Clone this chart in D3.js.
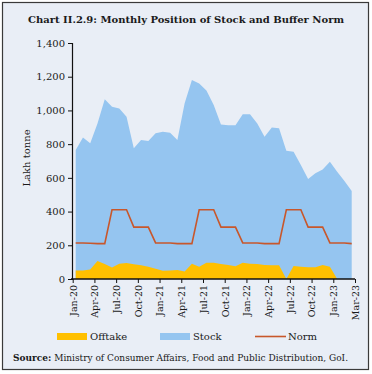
<!DOCTYPE html>
<html>
<head>
<meta charset="utf-8">
<script src="https://cdn.jsdelivr.net/npm/d3@7"></script>
<style>
  body { margin: 0; background: #fff; }
  svg text { font-family: "DejaVu Serif", "Liberation Serif", serif; fill: #1a1a1a; }
</style>
</head>
<body>
<div id="container"></div>
<script>
/* DATA */
const months = ["Jan-20","Feb-20","Mar-20","Apr-20","May-20","Jun-20","Jul-20","Aug-20","Sep-20","Oct-20","Nov-20","Dec-20",
  "Jan-21","Feb-21","Mar-21","Apr-21","May-21","Jun-21","Jul-21","Aug-21","Sep-21","Oct-21","Nov-21","Dec-21",
  "Jan-22","Feb-22","Mar-22","Apr-22","May-22","Jun-22","Jul-22","Aug-22","Sep-22","Oct-22","Nov-22","Dec-22",
  "Jan-23","Feb-23","Mar-23"];
const stock = [765, 840, 805, 923, 1066, 1022, 1012, 963, 775, 824, 818, 864,
  874, 868, 824, 1042, 1180, 1160, 1118, 1032, 917, 912, 912, 977,
  977, 923, 844, 898, 894, 761, 755, 676, 593, 627, 650, 696,
  636, 581, 522];
const offtake = [51, 51, 57, 107, 89, 68, 91, 95, 88, 81, 73, 61,
  49, 50, 53, 44, 91, 72, 97, 97, 89, 83, 75, 97,
  91, 89, 83, 81, 81, 0, 77, 73, 69, 69, 83, 73,
  0, 0, 0];
const norm = [214, 214, 212, 210, 210, 411, 411, 411, 308, 308, 308, 214,
  214, 214, 210, 210, 210, 411, 411, 411, 308, 308, 308, 214,
  214, 214, 210, 210, 210, 411, 411, 411, 308, 308, 308, 214,
  214, 214, 210];
const tickLabels = ["Jan-20","Apr-20","Jul-20","Oct-20","Jan-21","Apr-21","Jul-21","Oct-21",
  "Jan-22","Apr-22","Jul-22","Oct-22","Jan-23","Mar-23"];
const yTicks = [0, 200, 400, 600, 800, 1000, 1200, 1400];

/* CONSTANTS */
const width = 372, height = 374;
const plot = { left: 72, right: 355, top: 43, bottom: 279 };

const svg = d3.select("#container").append("svg")
  .attr("width", width)
  .attr("height", height);

// panel
svg.append("rect")
  .attr("x", 2.5).attr("y", 2.5)
  .attr("width", 366).attr("height", 367)
  .attr("fill", "#e9eef6")
  .attr("stroke", "#3a3a3a")
  .attr("stroke-width", 1.2);

// title
svg.append("text")
  .attr("x", 186).attr("y", 23)
  .attr("text-anchor", "middle")
  .style("font-size", "10px")
  .style("font-weight", "bold")
  .text("Chart II.2.9: Monthly Position of Stock and Buffer Norm");

// SCALES
const xScale = d3.scaleLinear()
  .domain([0, months.length - 1])
  .range([75.7, 351.7]);

const xTick = d3.scalePoint()
  .domain(tickLabels)
  .range([72.7, 355]);

const yScale = d3.scaleLinear()
  .domain([0, 1400])
  .range([plot.bottom, plot.top]);

// AREAS
const areaGen = vals => d3.area()
  .x((d, i) => xScale(i))
  .y0(yScale(0))
  .y1(d => yScale(d))(vals);

svg.append("path")
  .attr("d", areaGen(stock))
  .attr("fill", "#95c5f0");

svg.append("path")
  .attr("d", areaGen(offtake))
  .attr("fill", "#ffc000");

const lineGen = d3.line()
  .x((d, i) => xScale(i))
  .y(d => yScale(d));

svg.append("path")
  .attr("d", lineGen(norm))
  .attr("fill", "none")
  .attr("stroke", "#c8572b")
  .attr("stroke-width", 1.6);

// AXES
const yAxis = d3.axisLeft(yScale)
  .tickValues(yTicks)
  .tickSize(4)
  .tickPadding(3)
  .tickFormat(d3.format(","));

svg.append("g")
  .attr("transform", `translate(${plot.left},0)`)
  .call(yAxis)
  .call(g => g.select(".domain").attr("stroke", "#111").attr("stroke-width", 1.2))
  .call(g => g.selectAll(".tick line").attr("stroke", "#111"))
  .call(g => g.selectAll("text").style("font-size", "10px").style("font-family", "DejaVu Serif").attr("fill", "#1a1a1a"));

const xAxis = d3.axisBottom(xTick)
  .tickSize(4)
  .tickSizeOuter(0);

svg.append("g")
  .attr("transform", `translate(0,${plot.bottom})`)
  .call(xAxis)
  .call(g => g.select(".domain").attr("stroke", "#111").attr("stroke-width", 1.4).attr("d", `M${plot.left - 1},0H${plot.right}`))
  .call(g => g.selectAll(".tick line").attr("stroke", "#111"))
  .call(g => g.selectAll("text")
    .style("font-size", "9.5px").style("font-family", "DejaVu Serif").attr("fill", "#1a1a1a")
    .attr("transform", "rotate(-90)")
    .attr("text-anchor", "end")
    .attr("x", -6).attr("y", 0).attr("dy", "0.35em"));

// y label
svg.append("text")
  .attr("transform", "translate(30,158) rotate(-90)")
  .attr("text-anchor", "middle")
  .style("font-size", "10px")
  .text("Lakh tonne");

// LEGEND
const legend = [
  { name: "Offtake", color: "#ffc000", type: "rect", x: 57 },
  { name: "Stock", color: "#95c5f0", type: "rect", x: 160 },
  { name: "Norm", color: "#c8572b", type: "line", x: 255 }
];
const lg = svg.append("g").selectAll("g").data(legend).enter().append("g");
lg.filter(d => d.type === "rect").append("rect")
  .attr("x", d => d.x).attr("y", 333)
  .attr("width", 30).attr("height", 7)
  .attr("fill", d => d.color);
lg.filter(d => d.type === "line").append("line")
  .attr("x1", d => d.x).attr("x2", d => d.x + 31)
  .attr("y1", 336.5).attr("y2", 336.5)
  .attr("stroke", d => d.color).attr("stroke-width", 1.6);
lg.append("text")
  .attr("x", d => d.x + 33).attr("y", 340)
  .style("font-size", "10px")
  .text(d => d.name);

// source
const src = svg.append("text")
  .attr("x", 13).attr("y", 361)
  .style("font-size", "9px");
src.append("tspan").style("font-weight", "bold").text("Source:");
src.append("tspan").text(" Ministry of Consumer Affairs, Food and Public Distribution, GoI.");
</script>
</body>
</html>
